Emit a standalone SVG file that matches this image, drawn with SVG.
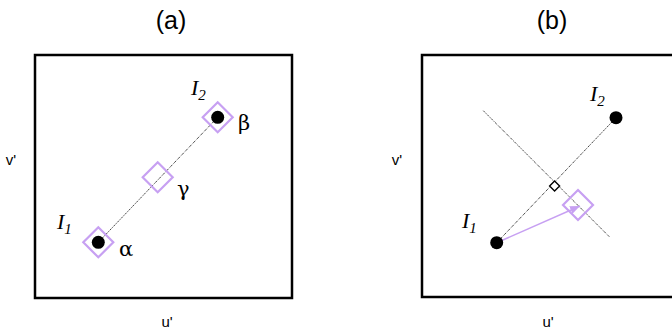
<svg xmlns="http://www.w3.org/2000/svg" width="672" height="332" viewBox="0 0 672 332">
<defs>
<style>
.frame{fill:none;stroke:#000;stroke-width:2.5}
.title{font-family:"Liberation Sans",Arial,sans-serif;font-size:25px;fill:#000;text-anchor:middle}
.axis{font-family:"Liberation Sans",Arial,sans-serif;font-size:15px;fill:#000;text-anchor:middle}
.lbl{font-family:"Liberation Serif","Times New Roman",serif;font-style:italic;font-size:22px;fill:#000}
.sub{font-size:15px}
.greek{font-family:"DejaVu Serif","Liberation Serif",serif;font-size:21px;fill:#000}
.dot{fill:#000}
.dia{fill:none;stroke:#c7a0f2;stroke-width:2.2}
.dl{stroke:#333;stroke-width:0.9;stroke-dasharray:2.5 1 1 1;fill:none}
</style>
<marker id="ah" markerWidth="10" markerHeight="8" refX="10" refY="4" orient="auto" markerUnits="userSpaceOnUse">
<path d="M0,0 L10,4 L0,8 Z" fill="#c7a0f2"/>
</marker>
</defs>
<rect width="672" height="332" fill="#fff"/>

<g id="panel-a">
<text class="title" x="171" y="29">(a)</text>
<rect class="frame" x="35" y="55" width="257" height="243"/>
<text class="axis" x="11" y="165">v'</text>
<text class="axis" x="167" y="327">u'</text>
</g>
<g id="panel-b">
<text class="title" x="552" y="29">(b)</text>
<rect class="frame" x="422" y="55" width="270" height="242"/>
<text class="axis" x="397" y="165">v'</text>
<text class="axis" x="548" y="327">u'</text>
</g>

<g id="connectors">
<line class="dl" x1="98.3" y1="242.3" x2="217.7" y2="117.3"/>
<line class="dl" x1="496.7" y1="242.7" x2="616" y2="117.7"/>
<line class="dl" x1="483.3" y1="110.7" x2="609.3" y2="236.7"/>
<line x1="496.7" y1="242.7" x2="580" y2="206" stroke="#c7a0f2" stroke-width="1.5" marker-end="url(#ah)"/>
</g>

<g id="a-I1">
<circle class="dot" cx="98.3" cy="242.3" r="6.5"/>
<path class="dia" d="M98.3,227.3 L113.3,242.3 L98.3,257.3 L83.3,242.3 Z"/>
<text class="lbl" x="57" y="229">I<tspan class="sub" dy="5">1</tspan></text>
<text class="greek" x="119" y="256">α</text>
</g>
<g id="a-I2">
<circle class="dot" cx="217.7" cy="117.3" r="6.5"/>
<path class="dia" d="M217.7,102.3 L232.7,117.3 L217.7,132.3 L202.7,117.3 Z"/>
<text class="lbl" x="191" y="95">I<tspan class="sub" dy="5">2</tspan></text>
<text class="greek" x="238" y="130">β</text>
</g>
<g id="a-gamma">
<path class="dia" d="M157.7,162.3 L172.7,177.3 L157.7,192.3 L142.7,177.3 Z"/>
<text class="greek" x="177" y="196">γ</text>
</g>

<g id="b-I1">
<circle class="dot" cx="496.7" cy="242.7" r="6.5"/>
<text class="lbl" x="462" y="228">I<tspan class="sub" dy="5">1</tspan></text>
</g>
<g id="b-I2">
<circle class="dot" cx="616" cy="117.7" r="6.5"/>
<text class="lbl" x="590" y="101">I<tspan class="sub" dy="5">2</tspan></text>
</g>
<g id="b-right-angle">
<path d="M554.6,181 L559.6,186 L554.6,191 L549.6,186 Z" fill="#fff" stroke="#000" stroke-width="1.4"/>
</g>
<g id="b-proj">
<path class="dia" d="M578,190 L593,205 L578,220 L563,205 Z"/>
</g>
</svg>
